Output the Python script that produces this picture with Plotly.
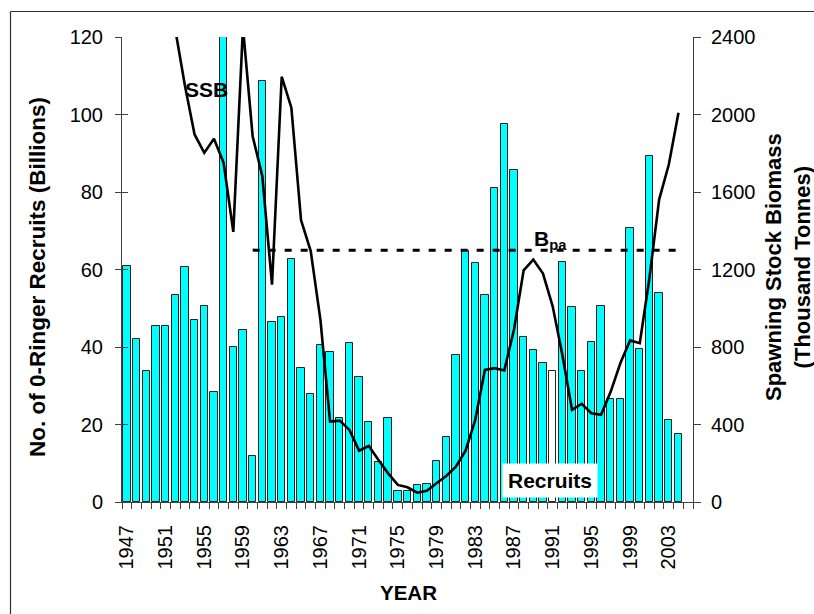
import plotly.graph_objects as go

years = list(range(1947, 2005))
recruits = [61.0, 42.0, 33.7, 45.3, 45.3, 53.3, 60.7, 47.0, 50.6, 28.5,
            150.0, 40.0, 44.5, 12.0, 108.6, 46.4, 47.8, 62.7, 34.7, 27.8,
            40.4, 38.6, 21.8, 41.0, 32.3, 20.7, 10.3, 21.8, 2.8, 2.8,
            4.3, 4.6, 10.6, 16.9, 37.9, 64.9, 61.7, 53.3, 81.0, 97.5,
            85.6, 42.5, 39.3, 35.8, 33.7, 62.0, 50.2, 33.7, 41.4, 50.6,
            26.6, 26.6, 70.8, 39.6, 89.4, 54.0, 21.1, 17.6]
ssb = [4800, 4300, 3700, 3300, 2900, 2440, 2150, 1897, 1802, 1875,
       1751, 1394, 2450, 1888, 1682, 1122, 2195, 2035, 1455, 1295,
       941, 415, 420, 372, 265, 289, 217, 148, 88, 76,
       48, 58, 97, 134, 182, 265, 424, 682, 691, 679,
       889, 1196, 1251, 1179, 1010, 760, 476, 507, 458, 450,
       570, 717, 834, 820, 1156, 1561, 1742, 2009]
bpa_years = [1960, 2004]
bpa_value = 1300
tick_years = list(range(1947, 2004, 4))
unfilled_year = 1991

FONT = "Liberation Sans, Arial, sans-serif"

bar_colors = ["#ffffff" if y == unfilled_year else "#00ffff" for y in years]

fig = go.Figure()
fig.add_trace(go.Bar(x=years, y=recruits, width=0.76,
                     marker=dict(color=bar_colors, line=dict(color="#202020", width=1)),
                     showlegend=False, hoverinfo="x+y"))
fig.add_trace(go.Scatter(x=years, y=ssb, yaxis="y2", mode="lines",
                         line=dict(color="black", width=2.6), showlegend=False))
fig.add_trace(go.Scatter(x=bpa_years, y=[bpa_value] * 2, yaxis="y2", mode="lines",
                         line=dict(color="black", width=3, dash="7px,9px"), showlegend=False))

ml, mr, mt, mb = 122, 121, 37, 112
W, H = 814, 614
pw, ph = W - ml - mr, H - mt - mb

def px(xp):
    return (xp - ml) / pw

def py(yp):
    return (H - mb - yp) / ph

minor_vals = [y - 0.5 for y in years] + [years[-1] + 0.5, years[-1] + 1.5]

fig.update_layout(
    width=W, height=H,
    margin=dict(l=ml, r=mr, t=mt, b=mb),
    paper_bgcolor="white", plot_bgcolor="white",
    font=dict(family=FONT, color="black"),
    bargap=0,
    xaxis=dict(range=[1946.5, 2005.5], tickmode="array", tickvals=tick_years,
               ticktext=[str(y) for y in tick_years], tickangle=-90,
               ticks="", showline=True, linecolor="#404040", linewidth=1,
               showgrid=False, zeroline=False, tickfont=dict(size=20, family=FONT),
               ticklabelstandoff=14,
               minor=dict(ticks="outside", tickmode="array", tickvals=minor_vals,
                          ticklen=6, tickcolor="#404040", tickwidth=1, showgrid=False)),
    yaxis=dict(range=[0, 120], dtick=20, ticks="outside", ticklen=6,
               tickcolor="#404040", showline=True, linecolor="#404040", linewidth=1,
               showgrid=False, zeroline=False, tickfont=dict(size=20, family=FONT),
               ticklabelstandoff=8),
    yaxis2=dict(range=[0, 2400], dtick=400, overlaying="y", side="right",
                ticks="outside", ticklen=7, tickcolor="#404040", showline=True,
                linecolor="#404040", linewidth=1, showgrid=False, zeroline=False,
                tickfont=dict(size=20, family=FONT), ticklabelstandoff=6),
    yaxis3=dict(range=[0, 120], dtick=20, overlaying="y", side="left",
                ticks="inside", ticklen=6, tickcolor="#404040", showticklabels=False,
                showline=False, showgrid=False, zeroline=False),
)
fig.add_trace(go.Scatter(x=[years[0]], y=[0], yaxis="y3", mode="markers",
                         marker=dict(opacity=0), showlegend=False, hoverinfo="skip"))

def label(text, x, y, size, angle=0, **kw):
    fig.add_annotation(text=text, textangle=angle, xref="paper", yref="paper",
                       x=px(x), y=py(y), xanchor="center", yanchor="middle",
                       showarrow=False, font=dict(size=size, family=FONT), **kw)

label("<b>No. of 0-Ringer Recruits (Billions)</b>", 37, 277, 22.5, -90)
label("<b>Spawning Stock Biomass<br>(Thousand Tonnes)</b>", 788, 267, 22, -90)
label("<b>YEAR</b>", 408, 592, 20.5)
label("<b>SSB</b>", 206, 89, 21)
label("<b>B<sub>pa</sub></b>", 550, 240, 21)
label("<b>Recruits</b>", 550, 480, 21, bgcolor="white", borderpad=5)

border = dict(color="#303030", width=1.2)
fig.add_shape(type="line", xref="paper", yref="paper",
              x0=px(10.5), y0=py(11.5), x1=px(830), y1=py(11.5), line=border, layer="below")
fig.add_shape(type="line", xref="paper", yref="paper",
              x0=px(10.5), y0=py(11.5), x1=px(10.5), y1=py(640), line=border, layer="below")

fig.write_html("out.html", config={"displayModeBar": False},
               post_script="document.body.style.margin='0';"
                           "document.body.style.overflow='hidden';")
